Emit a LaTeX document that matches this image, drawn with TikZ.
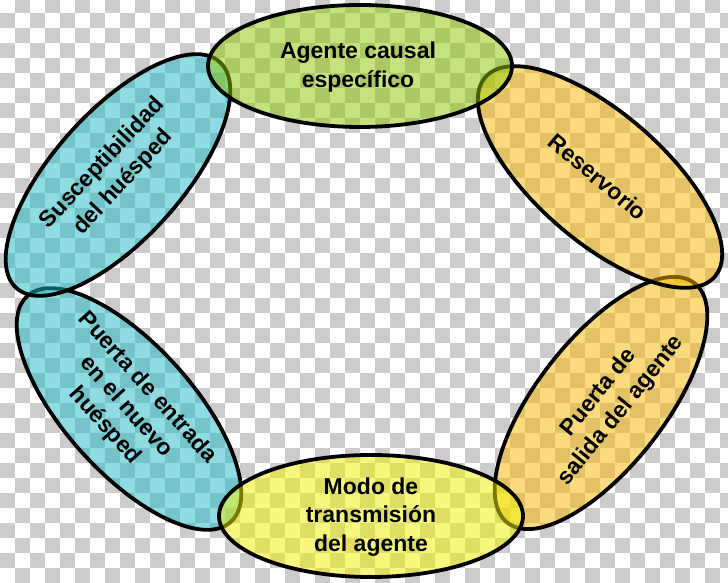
\documentclass[tikz,border=0pt]{standalone}
\usepackage{fontspec}
\setmainfont{Liberation Sans}
\usetikzlibrary{shapes.geometric}
\definecolor{chkgray}{RGB}{204,204,204}
\definecolor{cgreen}{RGB}{140,198,0}
\definecolor{ccyan}{RGB}{30,187,197}
\definecolor{cgold}{RGB}{250,185,0}
\definecolor{cyel}{RGB}{240,240,0}
\tikzset{
  ring/.style={ellipse, draw=black, line width=3.8pt, fill opacity=0.5, inner sep=0pt, minimum width=304pt},
  flat/.style={ring, minimum height=122pt},
  tilt/.style={ring, minimum height=128pt},
  lbl/.style={font=\fontsize{23}{28.5}\selectfont\bfseries, align=center, text=black, inner sep=0pt}
}
\begin{document}
\begin{tikzpicture}[x=1pt,y=1pt]
\useasboundingbox (0,0) rectangle (728,583);
\begin{scope}
\clip (0,0) rectangle (728,583);
\fill[white] (0,0) rectangle (728,583);
\foreach \r in {0,...,39}{
  \foreach \c in {0,...,48}{
    \pgfmathtruncatemacro{\chk}{\r+\c}
    \ifodd\chk
      \fill[chkgray] ({15*\c},{585.3-15*\r}) rectangle ++(15,-15);
    \fi
  }
}
\end{scope}
% ellipses (drawing order gives the overlaps)
\node[tilt, fill=ccyan, rotate=-48] (entrada) at (129,174) {};
\node[tilt, fill=cgold, rotate=52] (salida) at (601,180) {};
\node[tilt, fill=ccyan, rotate=48] (susc) at (118,408) {};
\node[tilt, fill=cgold, rotate=-41] (reserv) at (600,406) {};
\node[flat, fill=cyel] (modo) at (371,67) {};
\node[flat, fill=cgreen] (agente) at (360,517) {};
% labels
\node[lbl] (agenteT) at (358,516) {Agente causal\\específico};
\node[lbl, rotate=-40] (reservT) at (598,406) {Reservorio};
\node[lbl, rotate=51] (salidaT) at (610,181) {Puerta de\\salida del agente};
\node[lbl] (modoT) at (371,66) {Modo de\\transmisión\\del agente};
\node[lbl, rotate=-48] (entradaT) at (126,176) {Puerta de entrada\\en el nuevo\\huésped};
\node[lbl, rotate=47] (suscT) at (113,410) {Susceptibilidad\\del huésped};
\end{tikzpicture}
\end{document}
